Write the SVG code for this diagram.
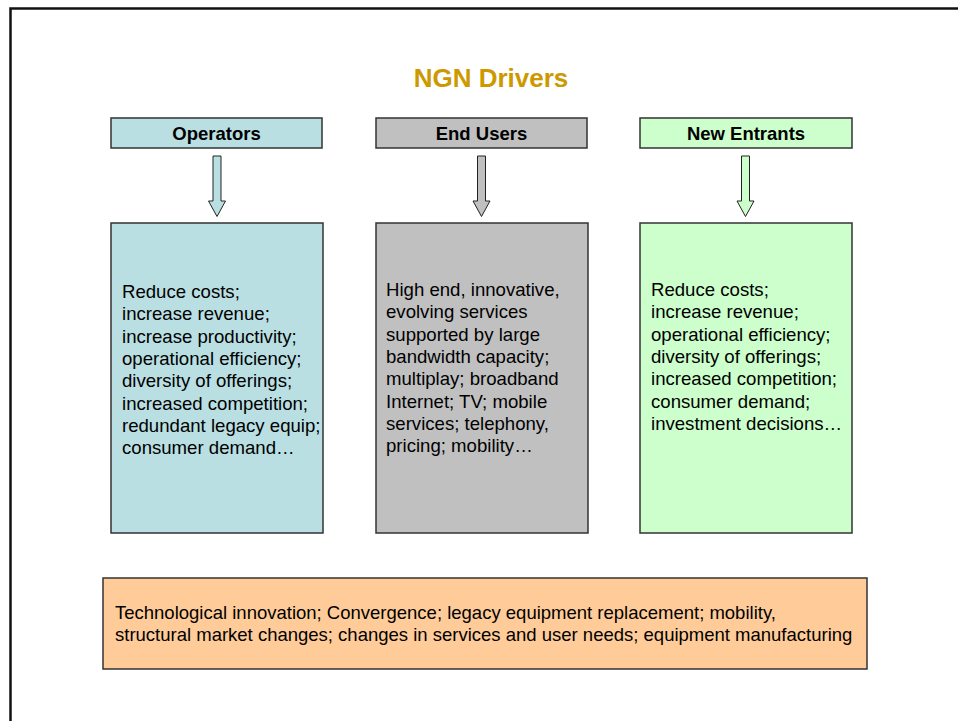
<svg xmlns="http://www.w3.org/2000/svg" width="958" height="721" viewBox="0 0 958 721">
<style>
text{font-family:"Liberation Sans",Arial,sans-serif;fill:#000}
.title{font-size:26px;font-weight:bold;fill:#CC9900}
.hdr{font-size:18.5px;font-weight:bold}
.body{font-size:18.6px}
.small{font-size:18.5px}
.box{stroke:#333;stroke-width:1.5}
.arrow{stroke:#222;stroke-width:1}
.ops{fill:#B9DFE3}
.usr{fill:#C0C0C0}
.ent{fill:#CCFFCC}
.bot{fill:#FFCC99}
</style>
<rect width="958" height="721" fill="#fff"/>
<path d="M10.5,721 V8.5 H958" fill="none" stroke="#111" stroke-width="2.5"/>
<text class="title" x="491" y="86.5" text-anchor="middle">NGN Drivers</text>

<g id="operators-header">
<rect class="box ops" x="111" y="118" width="211" height="30"/>
<text class="hdr" x="216.5" y="139.5" text-anchor="middle">Operators</text>
</g>
<g id="endusers-header">
<rect class="box usr" x="376" y="118" width="211" height="30"/>
<text class="hdr" x="481.5" y="139.5" text-anchor="middle">End Users</text>
</g>
<g id="newentrants-header">
<rect class="box ent" x="640" y="118" width="212" height="30"/>
<text class="hdr" x="746" y="139.5" text-anchor="middle">New Entrants</text>
</g>

<g id="connectors">
<path class="arrow ops" d="M213,156 H221 V201 H225.5 L217,216.5 L208.5,201 H213 Z"/>
<path class="arrow usr" d="M477.5,156 H485.5 V201 H490 L481.5,216.5 L473,201 H477.5 Z"/>
<path class="arrow ent" d="M741.5,156 H749.5 V201 H754 L745.5,216.5 L737,201 H741.5 Z"/>
</g>

<g id="operators-body">
<rect class="box ops" x="111" y="223" width="212" height="310"/>
<text class="body" x="122" y="298">
<tspan x="122">Reduce costs;</tspan>
<tspan x="122" dy="22.3">increase revenue;</tspan>
<tspan x="122" dy="22.3">increase productivity;</tspan>
<tspan x="122" dy="22.3">operational efficiency;</tspan>
<tspan x="122" dy="22.3">diversity of offerings;</tspan>
<tspan x="122" dy="22.3">increased competition;</tspan>
<tspan x="122" dy="22.3">redundant legacy equip;</tspan>
<tspan x="122" dy="22.3">consumer demand…</tspan>
</text>
</g>
<g id="endusers-body">
<rect class="box usr" x="376" y="223" width="212" height="310"/>
<text class="body" x="386" y="296">
<tspan x="386">High end, innovative,</tspan>
<tspan x="386" dy="22.3">evolving services</tspan>
<tspan x="386" dy="22.3">supported by large</tspan>
<tspan x="386" dy="22.3">bandwidth capacity;</tspan>
<tspan x="386" dy="22.3">multiplay; broadband</tspan>
<tspan x="386" dy="22.3">Internet; TV; mobile</tspan>
<tspan x="386" dy="22.3">services; telephony,</tspan>
<tspan x="386" dy="22.3">pricing; mobility…</tspan>
</text>
</g>
<g id="newentrants-body">
<rect class="box ent" x="640" y="223" width="212" height="310"/>
<text class="body" x="651" y="296">
<tspan x="651">Reduce costs;</tspan>
<tspan x="651" dy="22.3">increase revenue;</tspan>
<tspan x="651" dy="22.3">operational efficiency;</tspan>
<tspan x="651" dy="22.3">diversity of offerings;</tspan>
<tspan x="651" dy="22.3">increased competition;</tspan>
<tspan x="651" dy="22.3">consumer demand;</tspan>
<tspan x="651" dy="22.3">investment decisions…</tspan>
</text>
</g>

<g id="bottom-box">
<rect class="box bot" x="103" y="578" width="764" height="91"/>
<text class="small" x="115" y="619">
<tspan x="115">Technological innovation; Convergence; legacy equipment replacement; mobility,</tspan>
<tspan x="115" dy="22.3">structural market changes; changes in services and user needs; equipment manufacturing</tspan>
</text>
</g>
</svg>
